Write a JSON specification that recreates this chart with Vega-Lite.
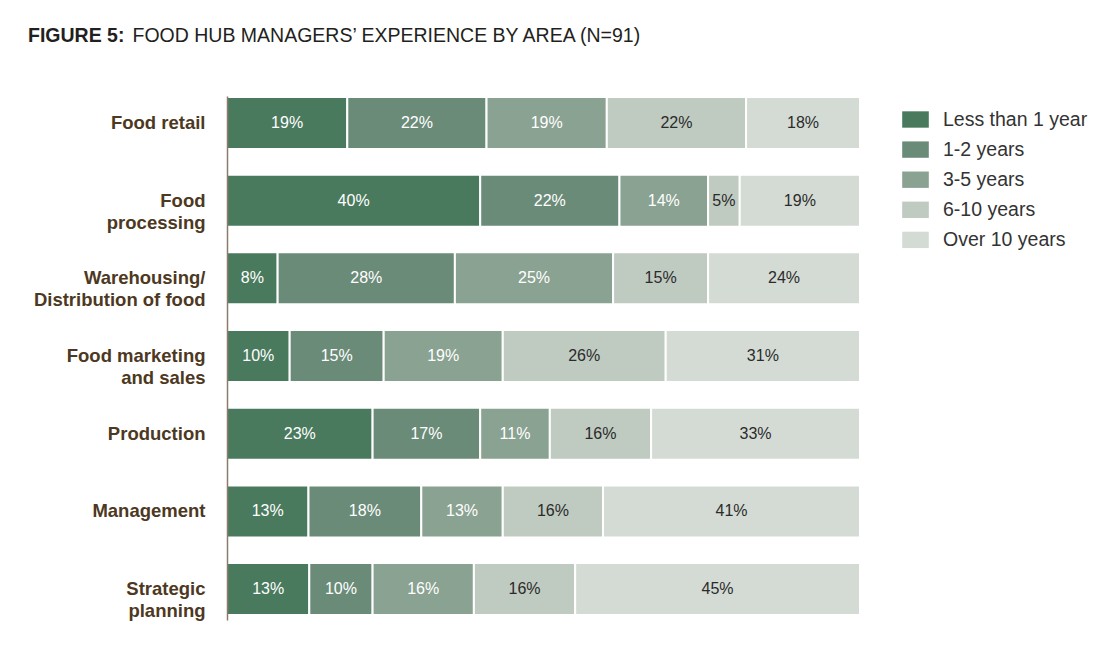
{
  "$schema": "https://vega.github.io/schema/vega-lite/v6.json",
  "width": 633,
  "height": 524,
  "autosize": {"type": "none"},
  "padding": {"left": 227, "top": 96, "right": 247, "bottom": 27},
  "background": "white",
  "title": {
    "text": "FIGURE 5:",
    "anchor": "start",
    "frame": "group",
    "dx": -199,
    "offset": -36,
    "baseline": "alphabetic",
    "font": "Liberation Sans",
    "fontSize": 19.5,
    "fontWeight": "bold",
    "color": "#231f20"
  },
  "config": {
    "view": {"stroke": null},
    "font": "Liberation Sans"
  },
  "data": {
    "values": [
      {"area": "Food retail", "cat": "Less than 1 year", "value": 19},
      {"area": "Food retail", "cat": "1-2 years", "value": 22},
      {"area": "Food retail", "cat": "3-5 years", "value": 19},
      {"area": "Food retail", "cat": "6-10 years", "value": 22},
      {"area": "Food retail", "cat": "Over 10 years", "value": 18},
      {"area": "Food|processing", "cat": "Less than 1 year", "value": 40},
      {"area": "Food|processing", "cat": "1-2 years", "value": 22},
      {"area": "Food|processing", "cat": "3-5 years", "value": 14},
      {"area": "Food|processing", "cat": "6-10 years", "value": 5},
      {"area": "Food|processing", "cat": "Over 10 years", "value": 19},
      {"area": "Warehousing/|Distribution of food", "cat": "Less than 1 year", "value": 8},
      {"area": "Warehousing/|Distribution of food", "cat": "1-2 years", "value": 28},
      {"area": "Warehousing/|Distribution of food", "cat": "3-5 years", "value": 25},
      {"area": "Warehousing/|Distribution of food", "cat": "6-10 years", "value": 15},
      {"area": "Warehousing/|Distribution of food", "cat": "Over 10 years", "value": 24},
      {"area": "Food marketing|and sales", "cat": "Less than 1 year", "value": 10},
      {"area": "Food marketing|and sales", "cat": "1-2 years", "value": 15},
      {"area": "Food marketing|and sales", "cat": "3-5 years", "value": 19},
      {"area": "Food marketing|and sales", "cat": "6-10 years", "value": 26},
      {"area": "Food marketing|and sales", "cat": "Over 10 years", "value": 31},
      {"area": "Production", "cat": "Less than 1 year", "value": 23},
      {"area": "Production", "cat": "1-2 years", "value": 17},
      {"area": "Production", "cat": "3-5 years", "value": 11},
      {"area": "Production", "cat": "6-10 years", "value": 16},
      {"area": "Production", "cat": "Over 10 years", "value": 33},
      {"area": "Management", "cat": "Less than 1 year", "value": 13},
      {"area": "Management", "cat": "1-2 years", "value": 18},
      {"area": "Management", "cat": "3-5 years", "value": 13},
      {"area": "Management", "cat": "6-10 years", "value": 16},
      {"area": "Management", "cat": "Over 10 years", "value": 41},
      {"area": "Strategic|planning", "cat": "Less than 1 year", "value": 13},
      {"area": "Strategic|planning", "cat": "1-2 years", "value": 10},
      {"area": "Strategic|planning", "cat": "3-5 years", "value": 16},
      {"area": "Strategic|planning", "cat": "6-10 years", "value": 16},
      {"area": "Strategic|planning", "cat": "Over 10 years", "value": 45}
    ]
  },
  "transform": [
    {"calculate": "indexof(['Less than 1 year','1-2 years','3-5 years','6-10 years','Over 10 years'], datum.cat)", "as": "k"},
    {"stack": "value", "groupby": ["area"], "sort": [{"field": "k", "order": "ascending"}], "offset": "normalize", "as": ["x0", "x1"]},
    {"calculate": "(datum.x0 + datum.x1) / 2", "as": "xm"},
    {"calculate": "datum.value + '%'", "as": "lbl"}
  ],
  "encoding": {
    "y": {
      "field": "area",
      "type": "nominal",
      "sort": ["Food retail", "Food|processing", "Warehousing/|Distribution of food", "Food marketing|and sales", "Production", "Management", "Strategic|planning"],
      "scale": {"paddingInner": 0.3305, "paddingOuter": 0.0384, "align": 0.17},
      "axis": {
        "title": null,
        "ticks": false,
        "zindex": 1,
        "domainColor": "#8c7b6b",
        "domainWidth": 1.5,
        "labelPadding": 22,
        "labelFont": "Liberation Sans",
        "labelFontSize": 18.5,
        "labelFontWeight": "bold",
        "labelColor": "#4d3822",
        "labelLineHeight": 22,
        "labelExpr": "split(datum.label, '|')"
      }
    }
  },
  "layer": [
    {
      "mark": {"type": "bar", "stroke": "white", "strokeWidth": 2},
      "encoding": {
        "x": {
          "field": "x0",
          "type": "quantitative",
          "scale": {"domain": [0, 1], "nice": false},
          "axis": {
            "orient": "top",
            "labels": false,
            "ticks": false,
            "domain": false,
            "grid": false,
            "title": "FOOD HUB MANAGERS’ EXPERIENCE BY AREA (N=91)",
            "titleX": -95,
            "titleY": -55,
            "titleAnchor": "start",
            "titleAlign": "left",
            "titleBaseline": "alphabetic",
            "titleFont": "Liberation Sans",
            "titleFontSize": 19.5,
            "titleFontWeight": "normal",
            "titleColor": "#231f20"
          }
        },
        "x2": {"field": "x1"},
        "color": {
          "field": "cat",
          "type": "nominal",
          "scale": {
            "domain": ["Less than 1 year", "1-2 years", "3-5 years", "6-10 years", "Over 10 years"],
            "range": ["#4a7a5e", "#6b8b79", "#8aa291", "#bfcac0", "#d4dbd4"]
          },
          "legend": {
            "title": null,
            "orient": "none",
            "legendX": 675,
            "legendY": 10,
            "padding": 0,
            "symbolType": "M-1,-0.615H1V0.615H-1Z",
            "symbolSize": 708,
            "symbolStrokeWidth": 0,
            "symbolOpacity": 1,
            "labelFont": "Liberation Sans",
            "labelFontSize": 19.5,
            "labelColor": "#333333",
            "labelOffset": 14,
            "rowPadding": 7.1,
            "labelLimit": 300
          }
        }
      }
    },
    {
      "mark": {"type": "text", "font": "Liberation Sans", "fontSize": 16},
      "encoding": {
        "x": {"field": "xm", "type": "quantitative"},
        "text": {"field": "lbl"},
        "color": {
          "condition": {"test": "datum.k >= 3", "value": "#2b2b2b"},
          "value": "white"
        }
      }
    }
  ]
}
